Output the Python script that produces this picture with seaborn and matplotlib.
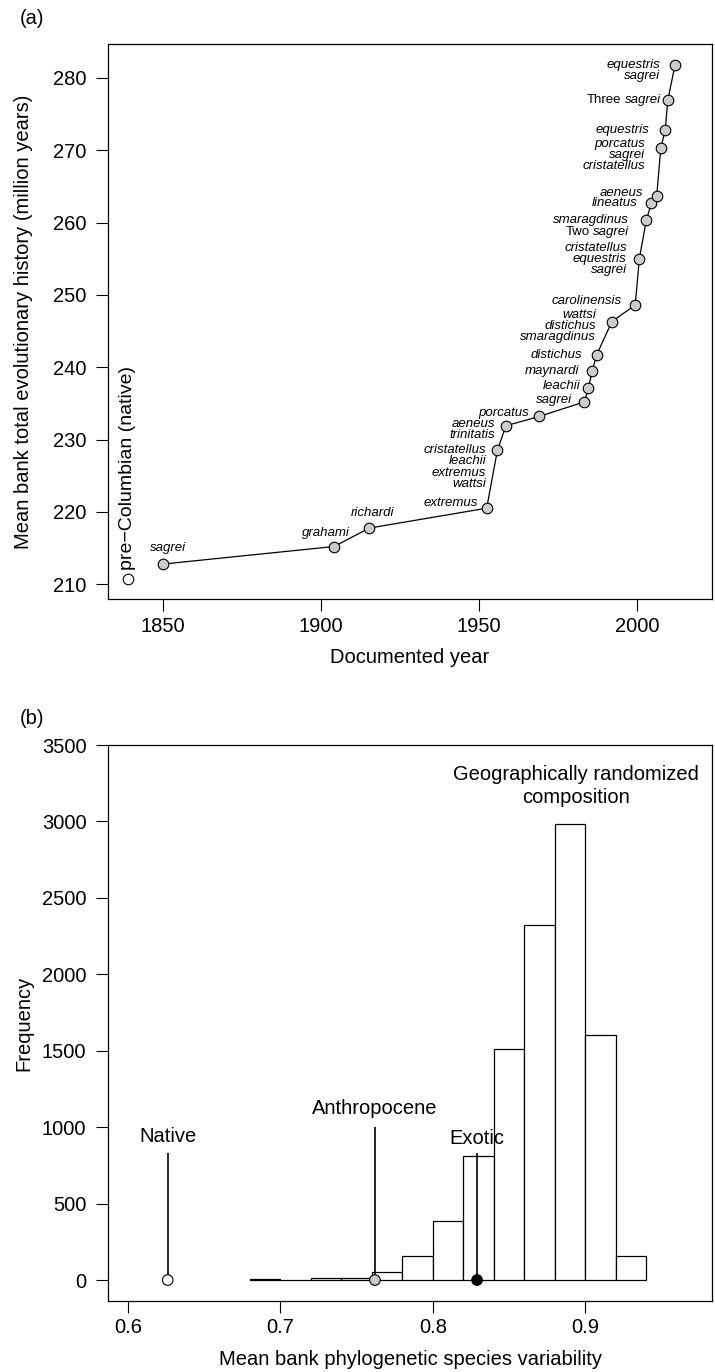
import numpy as np
import pandas as pd
import matplotlib
matplotlib.use("Agg")
import matplotlib.pyplot as plt
import seaborn as sns

# ---------------- data: panel (a) ----------------
years = [1850, 1904.2, 1915.4, 1952.5, 1955.9, 1958.6, 1969.2, 1983.4, 1984.7,
         1985.9, 1987.3, 1992.1, 1999.5, 2000.8, 2003.0, 2004.6, 2006.3,
         2007.6, 2009.0, 2009.8, 2012.1]
history = [212.77, 215.2, 217.75, 220.5, 228.5, 231.9, 233.2, 235.2, 237.1,
           239.5, 241.7, 246.3, 248.6, 255.0, 260.3, 262.7, 263.7, 270.3,
           272.8, 276.9, 281.8]
species_labels = ["sagrei", "grahami", "richardi", "extremus",
                  "cristatellus\nleachii\nextremus\nwattsi",
                  "aeneus\ntrinitatis", "porcatus", "sagrei", "leachii",
                  "maynardi", "distichus", "wattsi\ndistichus\nsmaragdinus",
                  "carolinensis", "cristatellus\nequestris\nsagrei",
                  "smaragdinus\nTwo sagrei", "lineatus", "aeneus",
                  "porcatus\nsagrei\ncristatellus", "equestris",
                  "Three sagrei", "equestris\nsagrei"]
native_year = 1839
native_history = 210.7
native_label = "pre\u2212Columbian (native)"
x_ticks_a = [1850, 1900, 1950, 2000]
y_ticks_a = [210, 220, 230, 240, 250, 260, 270, 280]

# ---------------- data: panel (b) ----------------
bin_edges = [0.68, 0.70, 0.72, 0.74, 0.76, 0.78, 0.80, 0.82, 0.84, 0.86,
             0.88, 0.90, 0.92, 0.94]
bin_counts = [5, 1, 15, 15, 55, 160, 385, 810, 1510, 2320, 2985, 1600, 155]
scenario_names = ["Native", "Anthropocene", "Exotic"]
scenario_psv = [0.626, 0.762, 0.829]
scenario_fill = ["white", "#c8c8c8", "black"]
x_ticks_b = [0.6, 0.7, 0.8, 0.9]
y_ticks_b = [0, 500, 1000, 1500, 2000, 2500, 3000, 3500]

# ---------------- layout (not data) ----------------
# per-label placement: (mode, dx_px, anchor_line or dy_px)
label_layout = [("above", 5.6, -16), ("above", -7.8, -14), ("above", 3.4, -15),
                ("left", 9, 0.5), ("left", 11, 0.0), ("left", 11, 0.15),
                ("left", 10, 0.3), ("left", 12.6, 0.15), ("left", 8.3, 0.2),
                ("left", 13, 0.0), ("left", 14, 0.0), ("left", 15.7, 0.6),
                ("left", 13.3, 0.4), ("left", 12.6, 1.0), ("left", 17, 0.0),
                ("left", 14, 0.0), ("left", 13.4, 0.23), ("left", 15.7, 0.4),
                ("left", 16, 0.0), ("left", 6.7, 0.0), ("left", 15, 0.0)]
stem_tops = [830, 1000, 830]
stem_label_y = [940, 1125, 925]

sns.set_theme(style="ticks")
plt.rcParams["font.family"] = ["Liberation Sans", "DejaVu Sans"]
plt.rcParams["text.color"] = "black"
plt.rcParams["axes.labelcolor"] = "black"
plt.rcParams["xtick.color"] = "black"
plt.rcParams["ytick.color"] = "black"

W, H = 715, 1372
fig = plt.figure(figsize=(W / 100, H / 100), dpi=100)
PX = 0.72  # points per pixel at dpi 100
renderer = fig.canvas.get_renderer()

def axes_rect(l, t, r, b):
    return [l / W, 1 - b / H, (r - l) / W, (b - t) / H]

ax1 = fig.add_axes(axes_rect(108.3, 44, 711.7, 599.3))
ax2 = fig.add_axes(axes_rect(108.3, 745, 711.7, 1301))

TICKFS = 14.5
SPECFS = 9.5

for ax in (ax1, ax2):
    for s in ax.spines.values():
        s.set_linewidth(0.9)
        s.set_color("black")
    ax.tick_params(axis="both", direction="out", length=8.4, width=0.8,
                   labelsize=TICKFS, colors="black", labelcolor="black")
    ax.tick_params(axis="x", pad=4)
    ax.tick_params(axis="y", pad=7.4)

# ---------------- panel (a) ----------------
df_a = pd.DataFrame({"year": years, "history": history})
sns.lineplot(data=df_a, x="year", y="history", sort=False, estimator=None,
             color="black", linewidth=0.9, ax=ax1, zorder=2)
sns.scatterplot(data=df_a, x="year", y="history", s=58, color="#cccccc",
                edgecolor="black", linewidth=0.8, ax=ax1, zorder=3)
sns.scatterplot(x=[native_year], y=[native_history], s=58, color="white",
                edgecolor="black", linewidth=0.8, ax=ax1, zorder=3)
ax1.annotate(native_label, xy=(native_year, native_history),
             xytext=(0, 9 * PX), textcoords="offset points", rotation=90,
             ha="center", va="bottom", fontsize=14, color="black")

ax1.set_xlim(1832.8, 2023.7)
ax1.set_ylim(207.9, 284.7)

LINE_PX = 11.1

def put_line(x, y, line, dx_px, dy_px, ha):
    """Draw one label line; a leading count word is upright, the name italic."""
    word = None
    for w in ("Three", "Two"):
        if line.startswith(w + " "):
            word, line = w, line[len(w) + 1:]
    t = ax1.annotate(line, xy=(x, y), xytext=(dx_px * PX, dy_px * PX),
                     textcoords="offset points", ha=ha, va="center",
                     fontsize=SPECFS, style="italic", color="black")
    if word is not None:
        wpx = t.get_window_extent(renderer).width
        space = 0.28 * SPECFS / PX
        ax1.annotate(word, xy=(x, y),
                     xytext=((dx_px - wpx - space) * PX, dy_px * PX),
                     textcoords="offset points", ha="right", va="center",
                     fontsize=SPECFS, style="normal", color="black")

for x, y, lab, (mode, dx, a) in zip(years, history, species_labels, label_layout):
    if mode == "above":
        put_line(x, y, lab, dx, -a, "center")
    else:
        for j, line in enumerate(lab.split("\n")):
            put_line(x, y, line, -dx, -(j - a) * LINE_PX, "right")

ax1.set_xticks(x_ticks_a)
ax1.set_yticks(y_ticks_a)
ax1.set_xlabel("Documented year", fontsize=TICKFS)
ax1.set_ylabel("Mean bank total evolutionary history (million years)",
               fontsize=TICKFS)
ax1.xaxis.set_label_coords(0.5, -48.7 / 555.3)
ax1.yaxis.set_label_coords(-0.124, 0.5)

# ---------------- panel (b) ----------------
centers = [(lo + hi) / 2 for lo, hi in zip(bin_edges[:-1], bin_edges[1:])]
df_b = pd.DataFrame({"psv": centers, "count": bin_counts})
sns.histplot(data=df_b, x="psv", weights="count", bins=bin_edges,
             color="white", edgecolor="black", linewidth=0.9, alpha=1,
             ax=ax2, zorder=1)
ax2.vlines(scenario_psv, 0, stem_tops, color="black", linewidth=1.2, zorder=3)
df_s = pd.DataFrame({"psv": scenario_psv, "y": [0, 0, 0],
                     "name": scenario_names})
sns.scatterplot(data=df_s, x="psv", y="y", hue="name",
                palette=dict(zip(scenario_names, scenario_fill)),
                s=58, edgecolor="black", linewidth=0.8, legend=False,
                ax=ax2, zorder=4)
for xv, yv, name in zip(scenario_psv, stem_label_y, scenario_names):
    ax2.text(xv, yv, name, ha="center", va="center", fontsize=TICKFS,
             color="black")
ax2.text(0.894, 3230, "Geographically randomized\ncomposition",
         ha="center", va="center", fontsize=TICKFS, linespacing=1.25,
         color="black")

ax2.set_xlim(0.587, 0.983)
ax2.set_ylim(-137, 3500)
ax2.set_xticks(x_ticks_b)
ax2.set_xticklabels([f"{v:.1f}" for v in x_ticks_b])
ax2.set_yticks(y_ticks_b)
ax2.set_xlabel("Mean bank phylogenetic species variability", fontsize=TICKFS)
ax2.set_ylabel("Frequency", fontsize=TICKFS)
ax2.xaxis.set_label_coords(0.5, -48.7 / 556)
ax2.yaxis.set_label_coords(-0.124, 0.5)

fig.text(32 / W, 1 - 18 / H, "(a)", ha="center", va="center",
         fontsize=TICKFS, color="black")
fig.text(32 / W, 1 - 718 / H, "(b)", ha="center", va="center",
         fontsize=TICKFS, color="black")

fig.savefig("out.png", dpi=100)
